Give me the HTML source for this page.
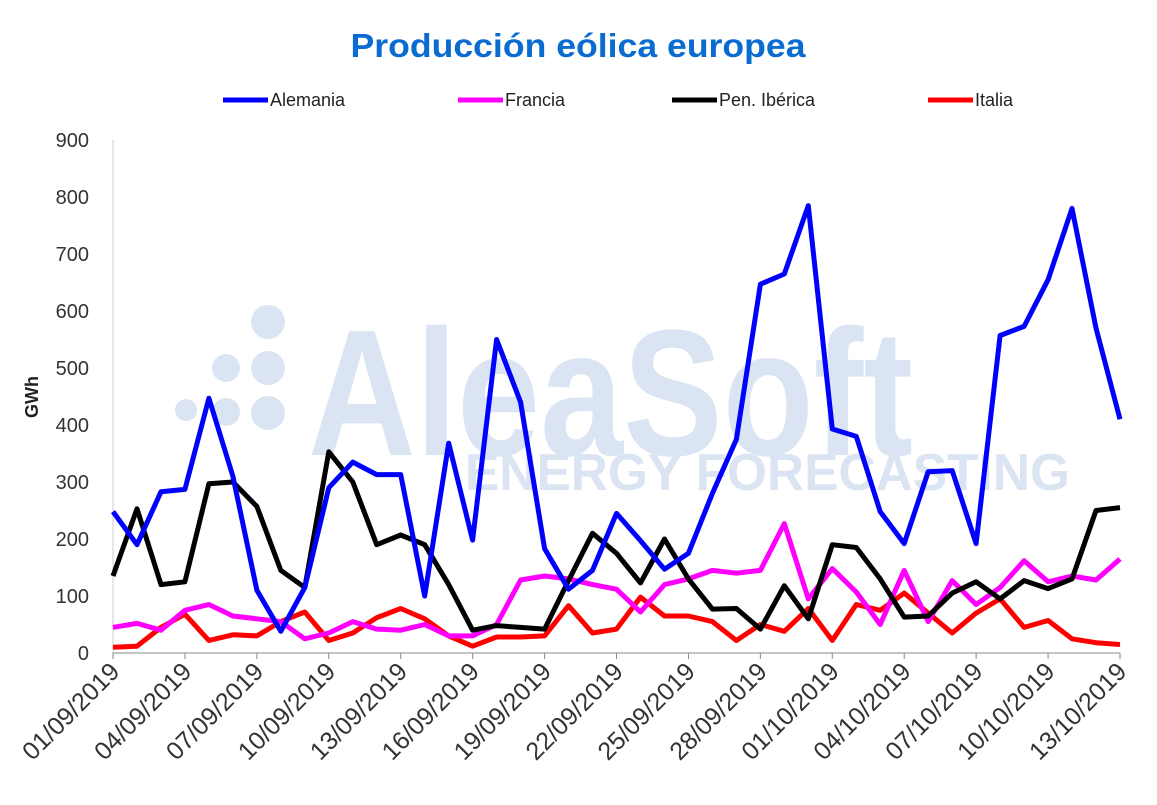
<!DOCTYPE html>
<html><head><meta charset="utf-8"><style>
html,body{margin:0;padding:0;background:#fff;}
svg{display:block;font-family:"Liberation Sans",Arial,sans-serif;}
</style></head><body>
<svg id="c" width="1157" height="805" viewBox="0 0 1157 805" xmlns="http://www.w3.org/2000/svg">
<text x="578" y="57" text-anchor="middle" font-size="33" font-weight="bold" fill="#0a6bd0" textLength="455" lengthAdjust="spacingAndGlyphs">Producción eólica europea</text>
<g font-size="18" fill="#222">
<line x1="223" y1="100" x2="268" y2="100" stroke="#0000ff" stroke-width="5"/><text x="270" y="106">Alemania</text>
<line x1="458" y1="100" x2="503" y2="100" stroke="#ff00ff" stroke-width="5"/><text x="505" y="106">Francia</text>
<line x1="672" y1="100" x2="717" y2="100" stroke="#000" stroke-width="5"/><text x="719" y="106">Pen. Ibérica</text>
<line x1="928" y1="100" x2="973" y2="100" stroke="#ff0000" stroke-width="5"/><text x="975" y="106">Italia</text>
</g>
<g fill="#dbe4f2">
<circle cx="268" cy="322" r="17"/><circle cx="268" cy="368" r="17"/><circle cx="268" cy="413" r="17"/>
<circle cx="226" cy="368" r="14"/><circle cx="226" cy="412" r="14"/><circle cx="186" cy="410" r="11"/>
<text x="308" y="455" font-size="180" font-weight="bold" textLength="605" lengthAdjust="spacingAndGlyphs">AleaSoft</text>
<text x="465" y="490" font-size="52" font-weight="bold" textLength="605" lengthAdjust="spacingAndGlyphs">ENERGY FORECASTING</text>
</g>
<g id="grid"></g>
<text transform="translate(38,397) rotate(-90)" text-anchor="middle" font-size="18" font-weight="bold" fill="#222">GWh</text>
<g id="lines"></g>
</svg>
<script>
var X0=113,X1=1120,Y0=653,S=0.57;
function x(i){return X0+i*(X1-X0)/42}function y(v){return Y0-v*S}
var g=document.getElementById('grid'),h='';
h+='<line x1="113" y1="140" x2="113" y2="653" stroke="#ccc"/>';
h+='<line x1="113" y1="653" x2="1120" y2="653" stroke="#888"/>';
for(var v=0;v<=900;v+=100){h+='<text x="89" y="'+(y(v)+7)+'" text-anchor="end" font-size="20" fill="#333">'+v+'</text>';}
var labs=['01/09/2019','04/09/2019','07/09/2019','10/09/2019','13/09/2019','16/09/2019','19/09/2019','22/09/2019','25/09/2019','28/09/2019','01/10/2019','04/10/2019','07/10/2019','10/10/2019','13/10/2019'];
for(var i=0;i<15;i++){var xx=x(i*3);h+='<line x1="'+xx+'" y1="653" x2="'+xx+'" y2="659" stroke="#888"/>';
h+='<text transform="translate('+(xx+8)+',673) rotate(-45)" text-anchor="end" font-size="25" fill="#333">'+labs[i]+'</text>';}
g.innerHTML=h;
var D=[
['#ff0000',[10,12,45,68,22,32,30,55,72,22,35,62,78,60,30,12,28,28,30,83,35,42,98,65,65,55,22,50,38,78,22,85,75,105,70,35,70,95,45,57,25,18,15]],
['#ff00ff',[45,52,40,75,85,65,60,55,25,35,55,42,40,50,30,30,50,128,135,130,120,112,72,120,130,145,140,145,227,95,148,107,50,145,55,127,85,115,162,125,135,128,165]],
['#000000',[135,253,120,125,297,300,257,145,115,353,300,190,207,190,120,40,48,45,42,127,210,175,123,200,130,77,78,42,118,60,190,185,130,63,65,105,125,95,127,113,130,250,255]],
['#0000ff',[248,190,283,287,447,310,110,38,115,290,335,313,313,100,368,198,550,440,183,112,145,245,197,147,175,280,375,647,665,785,393,380,248,192,318,320,192,557,573,655,780,570,410]]];
var l='';D.forEach(function(s){var p=s[1].map(function(v,i){return x(i).toFixed(1)+','+y(v).toFixed(1)}).join(' ');
l+='<polyline points="'+p+'" fill="none" stroke="'+s[0]+'" stroke-width="5" stroke-linejoin="round"/>';});
document.getElementById('lines').innerHTML=l;
</script>
</body></html>
